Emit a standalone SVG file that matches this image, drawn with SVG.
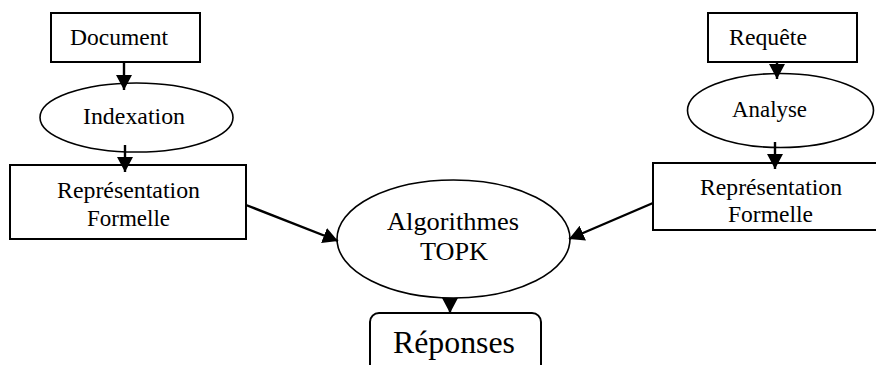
<svg xmlns="http://www.w3.org/2000/svg" width="876" height="365" viewBox="0 0 876 365">
  <style>
    .box { fill: #fff; stroke: #000; stroke-width: 2; }
    .oval { fill: #fff; stroke: #000; stroke-width: 1.6; }
    .lbl { font-family: "Times New Roman", "Liberation Serif", serif; font-size: 23.5px; fill: #000; }
    .big { font-size: 26px; }
    .huge { font-size: 31px; }
    .edge { stroke: #000; stroke-width: 2.4; fill: none; marker-end: url(#head); }
  </style>
  <defs>
    <marker id="head" markerUnits="userSpaceOnUse" markerWidth="16" markerHeight="16" refX="15" refY="8" orient="auto">
      <path d="M0,0 L15,8 L0,16 Z" fill="#000"/>
    </marker>
  </defs>

  <rect width="876" height="365" fill="#fff"/>

  <g id="document">
    <rect class="box" x="51" y="13" width="149" height="49"/>
    <text class="lbl" x="70" y="45" textLength="98" lengthAdjust="spacingAndGlyphs">Document</text>
  </g>

  <g id="indexation">
    <ellipse class="oval" cx="136.5" cy="117.5" rx="96.5" ry="34.5"/>
    <text class="lbl" x="83" y="124" textLength="102" lengthAdjust="spacingAndGlyphs">Indexation</text>
  </g>

  <g id="representation-doc">
    <rect class="box" x="10" y="165" width="236" height="74"/>
    <text class="lbl" x="57" y="198" textLength="143" lengthAdjust="spacingAndGlyphs">Représentation</text>
    <text class="lbl" x="87" y="226" textLength="83" lengthAdjust="spacingAndGlyphs">Formelle</text>
  </g>

  <g id="requete">
    <rect class="box" x="708" y="13" width="149" height="49"/>
    <text class="lbl" x="729" y="45" textLength="78" lengthAdjust="spacingAndGlyphs">Requête</text>
  </g>

  <g id="analyse">
    <ellipse class="oval" cx="780.5" cy="110.5" rx="93" ry="37"/>
    <text class="lbl" x="732" y="117" textLength="75" lengthAdjust="spacingAndGlyphs">Analyse</text>
  </g>

  <g id="representation-req">
    <rect class="box" x="653" y="163" width="235" height="67"/>
    <text class="lbl" x="700" y="195" textLength="142" lengthAdjust="spacingAndGlyphs">Représentation</text>
    <text class="lbl" x="728" y="222" textLength="85" lengthAdjust="spacingAndGlyphs">Formelle</text>
  </g>

  <g id="topk">
    <ellipse class="oval" cx="453.5" cy="239" rx="116.5" ry="59"/>
    <text class="lbl big" x="387" y="230" textLength="132" lengthAdjust="spacingAndGlyphs">Algorithmes</text>
    <text class="lbl big" x="420" y="260" textLength="68" lengthAdjust="spacingAndGlyphs">TOPK</text>
  </g>

  <g id="reponses">
    <rect class="box" x="370" y="313" width="171" height="70" rx="9" ry="9"/>
    <text class="lbl huge" x="393" y="353" textLength="122" lengthAdjust="spacingAndGlyphs">Réponses</text>
  </g>

  <g id="connectors">
    <line class="edge" x1="124" y1="62" x2="124" y2="90"/>
    <line class="edge" x1="125" y1="145" x2="125" y2="172"/>
    <line class="edge" x1="777" y1="62" x2="777" y2="79"/>
    <line class="edge" x1="775" y1="142" x2="775" y2="169"/>
    <line class="edge" x1="246" y1="205" x2="338" y2="241"/>
    <line class="edge" x1="653" y1="203" x2="569" y2="239"/>
    <line class="edge" x1="450" y1="298" x2="450" y2="313"/>
  </g>
</svg>
